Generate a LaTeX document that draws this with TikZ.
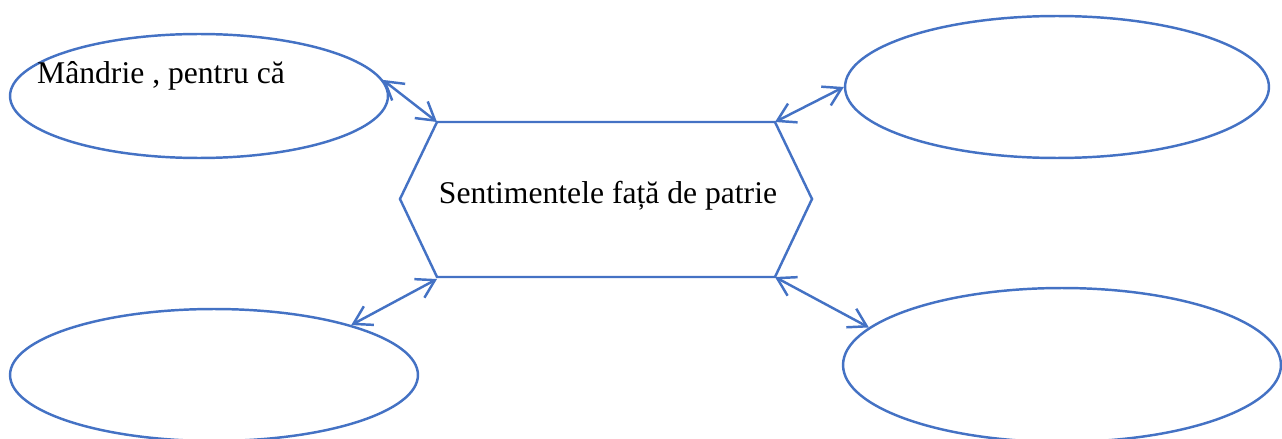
\documentclass[tikz,border=0pt]{standalone}
\usepackage{fontspec}
\setmainfont{Liberation Serif}
\usetikzlibrary{arrows.meta,shapes.geometric}
\definecolor{shapeblue}{RGB}{68,114,196}

\begin{document}
\begin{tikzpicture}[x=0.02cm,y=-0.02cm,
  bubble/.style={draw=shapeblue,line width=1.4pt,ellipse,inner sep=0pt},
  link/.style={draw=shapeblue,line width=1.4pt,{Straight Barb[length=10pt,width=12pt]}-{Straight Barb[length=10pt,width=12pt]}}]
\useasboundingbox (0,0) rectangle (1282,439);
% ellipses
\node[bubble,minimum width=7.56cm,minimum height=2.48cm] (tl) at (199,96) {};
\node[bubble,minimum width=8.48cm,minimum height=2.84cm] (tr) at (1057,87) {};
\node[bubble,minimum width=8.16cm,minimum height=2.64cm] (bl) at (214,375) {};
\node[bubble,minimum width=8.76cm,minimum height=3.08cm] (br) at (1062,365) {};
\node[anchor=west,font=\fontsize{18}{20}\selectfont] (mandrie) at (31,76) {Mândrie , pentru că};
% hexagon
\coordinate (htl) at (437,122);
\coordinate (htr) at (775,122);
\coordinate (hr) at (812,199);
\coordinate (hbr) at (775,277);
\coordinate (hbl) at (437,279);
\coordinate (hl) at (400,199);
\draw[shapeblue,line width=1.4pt] (htl)--(htr)--(hr)--(hbr)--(437,277)--(hl)--cycle;
\node[font=\fontsize{18}{20}\selectfont] (patrie) at (608,196) {Sentimentele față de patrie};
% arrows
\draw[link] (tl.5)--(htl);
\draw[link] (htr)--(tr.west);
\draw[link] (hbl)--(bl.20);
\draw[link] (hbr)--(br.169);
\end{tikzpicture}
\end{document}
